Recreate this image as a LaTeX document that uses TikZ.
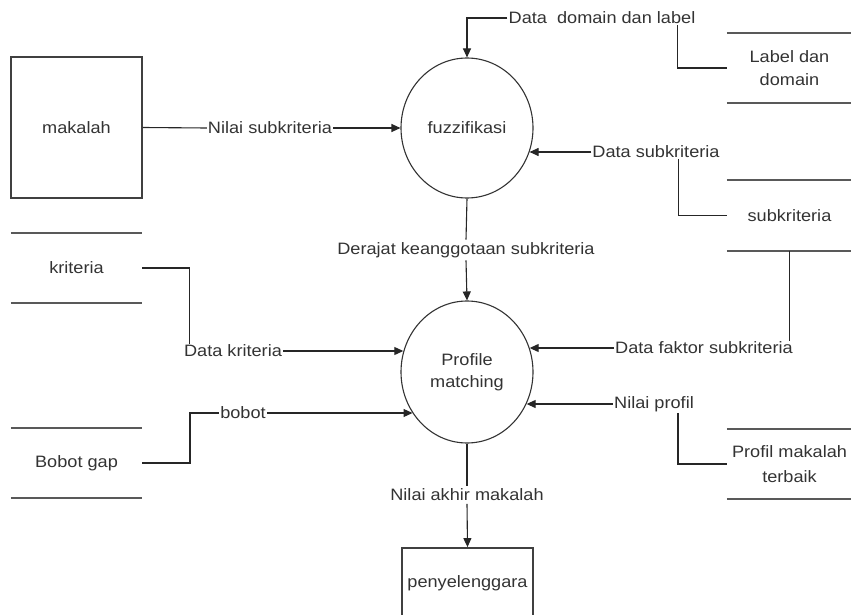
\documentclass[tikz,border=0pt]{standalone}
\usepackage{fontspec}
\setmainfont{Liberation Sans}[FakeStretch=1.1]
\usetikzlibrary{arrows.meta,shapes.geometric,calc}
\begin{document}
\begin{tikzpicture}[x=1pt,y=-1pt,
  every node/.style={font=\fontsize{16.5}{22.5}\selectfont, text=black!80},
  flow/.style={draw=black!85, line width=1.1pt},
  arr/.style={flow, -{Triangle[length=9pt,width=8pt]}},
  proc/.style={ellipse, draw=black!80, line width=1.1pt, minimum width=132pt, minimum height=140pt, inner sep=0pt, align=center},
  ent/.style={rectangle, draw=black!75, line width=1.8pt, minimum width=131pt, minimum height=141pt, inner sep=0pt},
  leftstore/.style={minimum width=131pt, minimum height=70pt, inner sep=0pt, align=center},
  rightstore/.style={minimum width=125pt, minimum height=70pt, inner sep=0pt, align=center},
  storeline/.style={draw=black!65, line width=1.8pt},
  lbl/.style={inner sep=1pt},
  vlbl/.style={inner sep=2.5pt}
]
\useasboundingbox (0,0) rectangle (851,615);

% processes and entities
\node[ent] (mak) at (76.5,127.5) {makalah};
\node[proc] (fuzz) at (467,128) {fuzzifikasi};
\node[proc, minimum height=142pt] (pm) at (467,372) {Profile\\matching};
\node[ent, minimum height=70pt] (pen) at (467.5,583) {penyelenggara};

% data stores
\node[rightstore] (ld) at (789.5,68) {Label dan\\domain};
\node[rightstore] (sk) at (789.5,215.5) {subkriteria};
\node[rightstore] (pmt) at (789.5,464) {Profil makalah\\[2pt]terbaik};
\node[leftstore] (krit) at (76.5,268) {kriteria};
\node[leftstore] (bg) at (76.5,463) {Bobot gap};
\foreach \s in {ld,sk,pmt,krit,bg}{
  \draw[storeline] (\s.north west) -- (\s.north east);
  \draw[storeline] (\s.south west) -- (\s.south east);
}

% flow labels
\node[lbl] (ns) at (270,128) {Nilai subkriteria};
\node[lbl] (dd) at (602,18) {Data\ \ domain dan label};
\node[lbl] (ds) at (656,152) {Data subkriteria};
\node[vlbl] (der) at (466,250) {Derajat keanggotaan subkriteria};
\node[lbl] (dk) at (233,351) {Data kriteria};
\node[lbl] (dfs) at (704,348) {Data faktor subkriteria};
\node[lbl] (bob) at (243,413) {bobot};
\node[lbl] (np) at (654,404) {Nilai profil};
\node[vlbl] (nam) at (467,495) {Nilai akhir makalah};

% connectors
\draw[flow] (mak.east) -- (ns.west);
\draw[arr] (ns.east) -- (fuzz.west);

\draw[arr] (dd.west) -| (fuzz.north);
\draw[flow] ([xshift=-19pt]dd.south east) |- (ld.west);

\draw[arr] (ds.west) -- (ds.west -| fuzz.-21);
\draw[flow] ([xshift=-42pt]ds.south east) |- (sk.west);

\draw[flow] (fuzz.south) -- (der.north);
\draw[arr] (der.south) -- (pm.north);

\draw[flow] (krit.east) -| ([xshift=7pt]dk.north west);
\draw[arr] (dk.east) -- (dk.east -| pm.162);

\coordinate (kb) at (190,413);
\draw[flow] (bg.east) -| (kb) -- (bob.west);
\draw[arr] (bob.east) -- (bob.east -| pm.217);

\draw[flow] (sk.south) -- (sk.south |- dfs.north);
\draw[arr] (dfs.west) -- (dfs.west -| pm.21);

\draw[arr] (np.west) -- (np.west -| pm.-28);
\draw[flow] ([xshift=-17pt]np.south east) |- (pmt.west);

\draw[flow] (pm.south) -- (nam.north);
\draw[arr] (nam.south) -- (pen.north);
\end{tikzpicture}
\end{document}
